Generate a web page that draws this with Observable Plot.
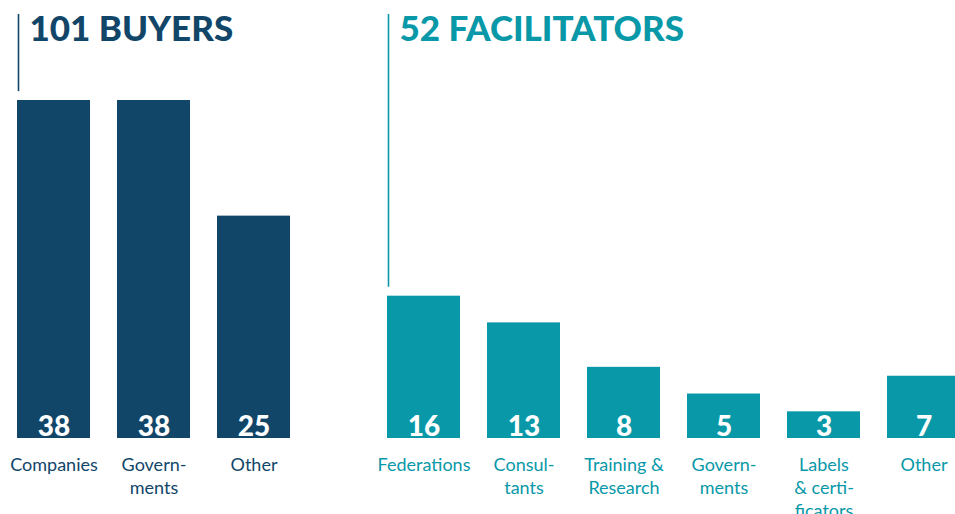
<!DOCTYPE html>
<html><head><meta charset="utf-8">
<script src="https://cdn.jsdelivr.net/npm/d3@7"></script>
<script src="https://cdn.jsdelivr.net/npm/@observablehq/plot@0.6"></script>
<style>
html,body{margin:0;padding:0;background:#fff;}
#wrap{position:relative;width:955px;height:514px;overflow:hidden;}
#wrap svg{position:absolute;top:0;}
</style></head><body><div id="wrap"></div>
<script>
const buyerCats = ["Companies","Governments","Other"];
const buyerLabels = ["Companies","Govern-\nments","Other"];
const buyerValues = [38,38,25];
const buyerTitle = "101 BUYERS";

const facCats = ["Federations","Consultants","Training & Research","Governments","Labels & certificators","Other"];
const facLabels = ["Federations","Consul-\ntants","Training &\nResearch","Govern-\nments","Labels\n& certi-\nficators","Other"];
const facValues = [16,13,8,5,3,7];
const facTitle = "52 FACILITATORS";

const NAVY = "#114669", TEAL = "#0898a8";
const YTOP = 47.67;

function panel({cats, labels, values, title, color, width, step, left}) {
  const data = cats.map((c, i) => ({cat: c, label: labels[i], value: values[i]}));
  const lab = new Map(data.map(d => [d.cat, d.label]));
  const n = cats.length;
  const svg = Plot.plot({
    width, height: 514, marginTop: 14, marginBottom: 76, marginLeft: 0, marginRight: 0,
    style: {fontFamily: "Lato, sans-serif", background: "transparent", overflow: "visible"},
    x: {domain: cats, range: [3.5, 3.5 + step * n], paddingInner: 0.27, paddingOuter: 0.135},
    y: {domain: [0, YTOP], axis: null},
    marks: [
      Plot.barY(data, {x: "cat", y: "value", fill: color}),
      Plot.ruleX(data.slice(0, 1), {x: "cat", y1: d => d.value + 1, y2: YTOP, stroke: color, strokeWidth: 1.6, dx: -35.5}),
      Plot.text(data.slice(0, 1), {x: "cat", y: YTOP, text: () => title, textAnchor: "start", lineAnchor: "top",
        dx: -24.5, dy: 2, fontSize: 35, fontWeight: 900, fill: color, letterSpacing: "-0.6px"}),
      Plot.text(data, {x: "cat", y: 0, text: d => String(d.value), fill: "white", fontSize: 28, fontWeight: 900,
        lineAnchor: "bottom", dy: -3}),
      Plot.axisX({tickSize: 0, tickPadding: 16, tickFormat: d => lab.get(d), fontSize: 18, lineHeight: 1.28,
        fill: color, color: color, label: null})
    ]
  });
  svg.style.left = left + "px";
  document.getElementById("wrap").appendChild(svg);
}

panel({cats: buyerCats, labels: buyerLabels, values: buyerValues, title: buyerTitle, color: NAVY, width: 370, step: 100, left: 0});
panel({cats: facCats, labels: facLabels, values: facValues, title: facTitle, color: TEAL, width: 585, step: 100.2, left: 369});
</script></body></html>
